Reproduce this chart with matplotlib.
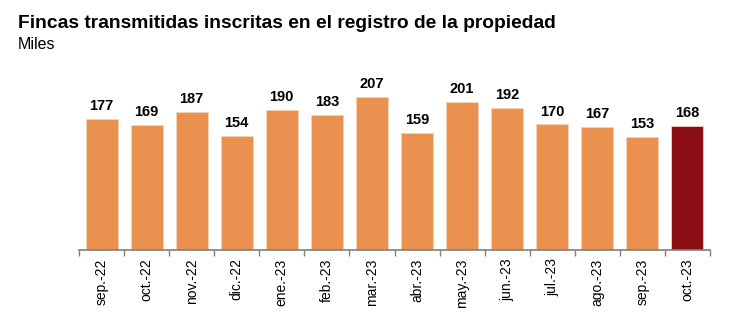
import matplotlib
matplotlib.use("Agg")
import matplotlib.pyplot as plt
import numpy as np

plt.rcParams['font.family'] = ['Liberation Sans', 'DejaVu Sans']

# Data (miles)
meses = ['sep.-22', 'oct.-22', 'nov.-22', 'dic.-22', 'ene.-23', 'feb.-23', 'mar.-23',
         'abr.-23', 'may.-23', 'jun.-23', 'jul.-23', 'ago.-23', 'sep.-23', 'oct.-23']
fincas = [177, 169, 187, 154, 190, 183, 207, 159, 201, 192, 170, 167, 153, 168]

naranja = '#EA9150'
granate = '#8B0E14'
colores = [naranja] * (len(meses) - 1) + [granate]

fig = plt.figure(figsize=(7.5, 3.24), dpi=100)
ax = fig.add_axes([0.1053, 0.2284, 0.8414, 0.54])

x = np.arange(len(meses))
bars = ax.bar(x, fincas, width=0.71, color=colores, edgecolor='#F6D2B6', linewidth=0.6)

for xi, v in zip(x, fincas):
    ax.text(xi, v + 8, str(v), ha='center', va='bottom', fontsize=10.5, fontweight='bold')

ax.set_xlim(-0.5, len(meses) - 0.5)
ax.set_ylim(0, 237)

# ejes
for s in ['top', 'right', 'left']:
    ax.spines[s].set_visible(False)
ax.spines['bottom'].set_color('#7F7F7F')
ax.spines['bottom'].set_linewidth(1.2)
ax.set_yticks([])

ax.set_xticks(x)
ax.set_xticklabels(meses, rotation=90, fontsize=10)
ax.tick_params(axis='x', which='major', length=0, pad=6)
ax.set_xticks(np.arange(-0.5, len(meses), 1), minor=True)
ax.tick_params(axis='x', which='minor', length=4, width=1, color='#7F7F7F', direction='out')

fig.text(0.024, 0.914, 'Fincas transmitidas inscritas en el registro de la propiedad',
         fontsize=13.9, fontweight='bold', ha='left', va='baseline')
fig.text(0.024, 0.848, 'Miles', fontsize=11.5, ha='left', va='baseline')

fig.savefig('out.png', dpi=100)
